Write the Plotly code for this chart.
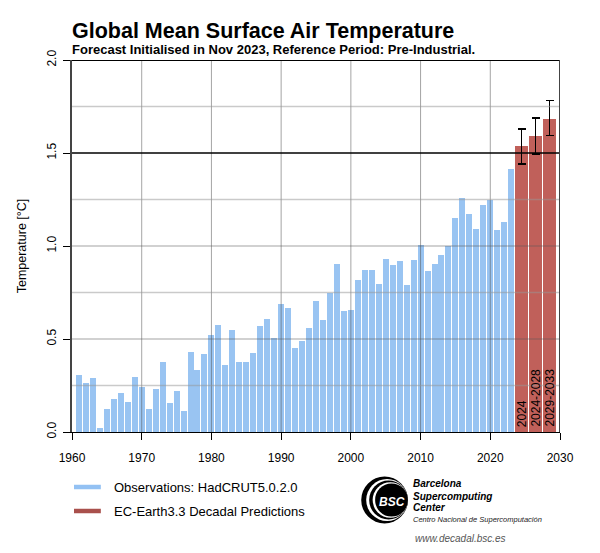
import plotly.graph_objects as go

# ---------------- data ----------------
obs_years = list(range(1961, 2024))
obs_values = [
    0.308, 0.263, 0.290, 0.023, 0.124, 0.179, 0.210, 0.160, 0.296, 0.244,
    0.124, 0.233, 0.378, 0.154, 0.219, 0.111, 0.430, 0.332, 0.419, 0.523,
    0.577, 0.360, 0.550, 0.375, 0.375, 0.423, 0.570, 0.609, 0.504, 0.686,
    0.665, 0.452, 0.491, 0.559, 0.704, 0.604, 0.747, 0.903, 0.650, 0.656,
    0.817, 0.869, 0.871, 0.794, 0.932, 0.898, 0.918, 0.792, 0.923, 1.007,
    0.864, 0.905, 0.950, 0.998, 1.152, 1.260, 1.172, 1.090, 1.219, 1.247,
    1.088, 1.127, 1.412,
]
fc_labels = ["2024", "2024-2028", "2029-2033"]
fc_start = 2024.5
fc_step = 2.0
fc_values = [1.540, 1.589, 1.683]
fc_upper = [1.630, 1.688, 1.783]
fc_lower = [1.440, 1.495, 1.593]

x_ticks = [1960, 1970, 1980, 1990, 2000, 2010, 2020, 2030]
y_ticks = [0.0, 0.5, 1.0, 1.5, 2.0]

title = "Global Mean Surface Air Temperature"
subtitle = "Forecast Initialised in Nov 2023, Reference Period: Pre-Industrial."
y_title = "Temperature [°C]"
legend_obs = "Observations: HadCRUT5.0.2.0"
legend_fc = "EC-Earth3.3 Decadal Predictions"

# ---------------- layout constants ----------------
OFF = 8                      # default page body margin
WIN_W, WIN_H = 600, 553
W, H = WIN_W - 2 * OFF, WIN_H - 2 * OFF
PLOT_L, PLOT_R, PLOT_T, PLOT_B = 69, 560, 60, 432   # window pixel box of plot area
L = PLOT_L - OFF
R = W - (PLOT_R - OFF)
T = PLOT_T - OFF
B = H - (PLOT_B - OFF)
PW, PH = PLOT_R - PLOT_L, PLOT_B - PLOT_T
PAD = 3                      # annotation inner padding compensation
FONT = "Liberation Sans, Arial, Helvetica, sans-serif"
OBS_COL = "#99c4f2"
FC_COL = "#c0605a"


def px(xw):
    return (xw - PLOT_L) / PW


def py(yw):
    return (PLOT_B - yw) / PH


def text_left(txt, xw, yw, size, color="black"):
    return dict(text=txt, x=px(xw - PAD), y=py(yw), xref="paper", yref="paper",
                xanchor="left", yanchor="middle", showarrow=False,
                font=dict(family=FONT, size=size, color=color))


fc_x = [fc_start + fc_step * i for i in range(len(fc_labels))]

fig = go.Figure()
fig.add_trace(go.Bar(
    x=obs_years, y=obs_values, width=0.86,
    marker=dict(color=OBS_COL, line=dict(width=0)),
    showlegend=False, hoverinfo="x+y",
))
fig.add_trace(go.Bar(
    x=fc_x, y=fc_values, width=1.8,
    marker=dict(color=FC_COL, line=dict(width=0)),
    error_y=dict(
        type="data", symmetric=False,
        array=[u - v for u, v in zip(fc_upper, fc_values)],
        arrayminus=[v - lo for v, lo in zip(fc_values, fc_lower)],
        color="black", thickness=1.5, width=4,
    ),
    showlegend=False, hovertext=fc_labels,
))

shapes = []
# grid lines above bars
for xv in x_ticks[1:-1]:
    shapes.append(dict(type="line", xref="x", yref="y", x0=xv, x1=xv, y0=0, y1=2,
                       line=dict(color="rgba(90,90,90,0.55)", width=1), layer="above"))
for k in range(1, 8):
    yv = k * 0.25
    if abs(yv - 1.5) < 1e-9:
        continue
    col = "rgba(90,90,90,0.55)" if k % 2 == 0 else "rgba(150,150,150,0.5)"
    wid = 1 if k % 2 == 0 else 1.5
    shapes.append(dict(type="line", xref="x", yref="y", x0=1960, x1=2030, y0=yv, y1=yv,
                       line=dict(color=col, width=wid), layer="above"))
# 1.5 reference line
shapes.append(dict(type="line", xref="x", yref="y", x0=1960, x1=2030, y0=1.5, y1=1.5,
                   line=dict(color="black", width=1.5), layer="above"))
# top border and right border
shapes.append(dict(type="line", xref="x", yref="y", x0=1960, x1=2030, y0=2, y1=2,
                   line=dict(color="black", width=2), layer="above"))
shapes.append(dict(type="line", xref="x", yref="y", x0=2030, x1=2030, y0=0, y1=2,
                   line=dict(color="#444444", width=2), layer="above"))

# legend samples
shapes.append(dict(type="line", xref="paper", yref="paper", x0=px(71), x1=px(98),
                   y0=py(487), y1=py(487), line=dict(color="#93c1f3", width=4.5)))
shapes.append(dict(type="line", xref="paper", yref="paper", x0=px(71), x1=px(98),
                   y0=py(511), y1=py(511), line=dict(color="#a9504c", width=4.5)))

# BSC logo (nested circles)
cy = 500
for left, right, col in [(360, 407, "black"), (365, 407, "white"), (368, 407, "black"),
                         (371.5, 407, "white"), (374, 407, "black")]:
    r = (right - left) / 2
    shapes.append(dict(type="circle", xref="paper", yref="paper",
                       x0=px(left), x1=px(right), y0=py(cy + r), y1=py(cy - r),
                       fillcolor=col, line=dict(width=0), layer="above"))

annotations = [
    text_left("<b>" + title + "</b>", 70, 31, 21.5),
    text_left("<b>" + subtitle + "</b>", 70, 49, 13),
    text_left(legend_obs, 112, 487, 13),
    text_left(legend_fc, 112, 511, 13),
    dict(text="<b><i>BSC</i></b>", x=px(390.5), y=py(502), xref="paper", yref="paper",
         xanchor="center", yanchor="middle", showarrow=False,
         font=dict(family=FONT, size=12, color="white")),
    text_left("<b><i>Barcelona</i></b>", 413, 484, 10),
    text_left("<b><i>Supercomputing</i></b>", 413, 496, 10),
    text_left("<b><i>Center</i></b>", 413, 507, 10),
    text_left("<i>Centro Nacional de Supercomputación</i>", 413, 519, 7.5, "#222222"),
    text_left("<i>www.decadal.bsc.es</i>", 415, 538, 10, "#555555"),
]
for xv, lab in zip(fc_x, fc_labels):
    annotations.append(dict(text=lab, x=xv, y=0, xref="x", yref="y", textangle=-90,
                            xanchor="center", yanchor="bottom", yshift=3, showarrow=False,
                            font=dict(family=FONT, size=12, color="black")))

fig.update_layout(
    width=W, height=H, autosize=False,
    margin=dict(l=L, r=R, t=T, b=B, pad=0),
    paper_bgcolor="white", plot_bgcolor="white",
    font=dict(family=FONT, size=12, color="black"),
    bargap=0, barmode="overlay", showlegend=False,
    shapes=shapes, annotations=annotations,
    xaxis=dict(range=[1960, 2030], tickvals=x_ticks, ticks="outside", ticklen=7,
               tickwidth=1.2, tickcolor="black", showline=True, linecolor="black",
               linewidth=1.2, showgrid=False, zeroline=False, ticklabelstandoff=7,
               tickfont=dict(family=FONT, size=12, color="black")),
    yaxis=dict(range=[0, 2], tickvals=y_ticks, tickformat=".1f", ticks="outside",
               ticklen=7, tickwidth=1.2, tickcolor="black", showline=True,
               linecolor="#444444", linewidth=2, showgrid=False, zeroline=False,
               tickangle=-90, ticklabelstandoff=2,
               tickfont=dict(family=FONT, size=12, color="black"),
               title=dict(text=y_title, standoff=16,
                          font=dict(family=FONT, size=12.5, color="black"))),
)

fig.write_html("out.html")
